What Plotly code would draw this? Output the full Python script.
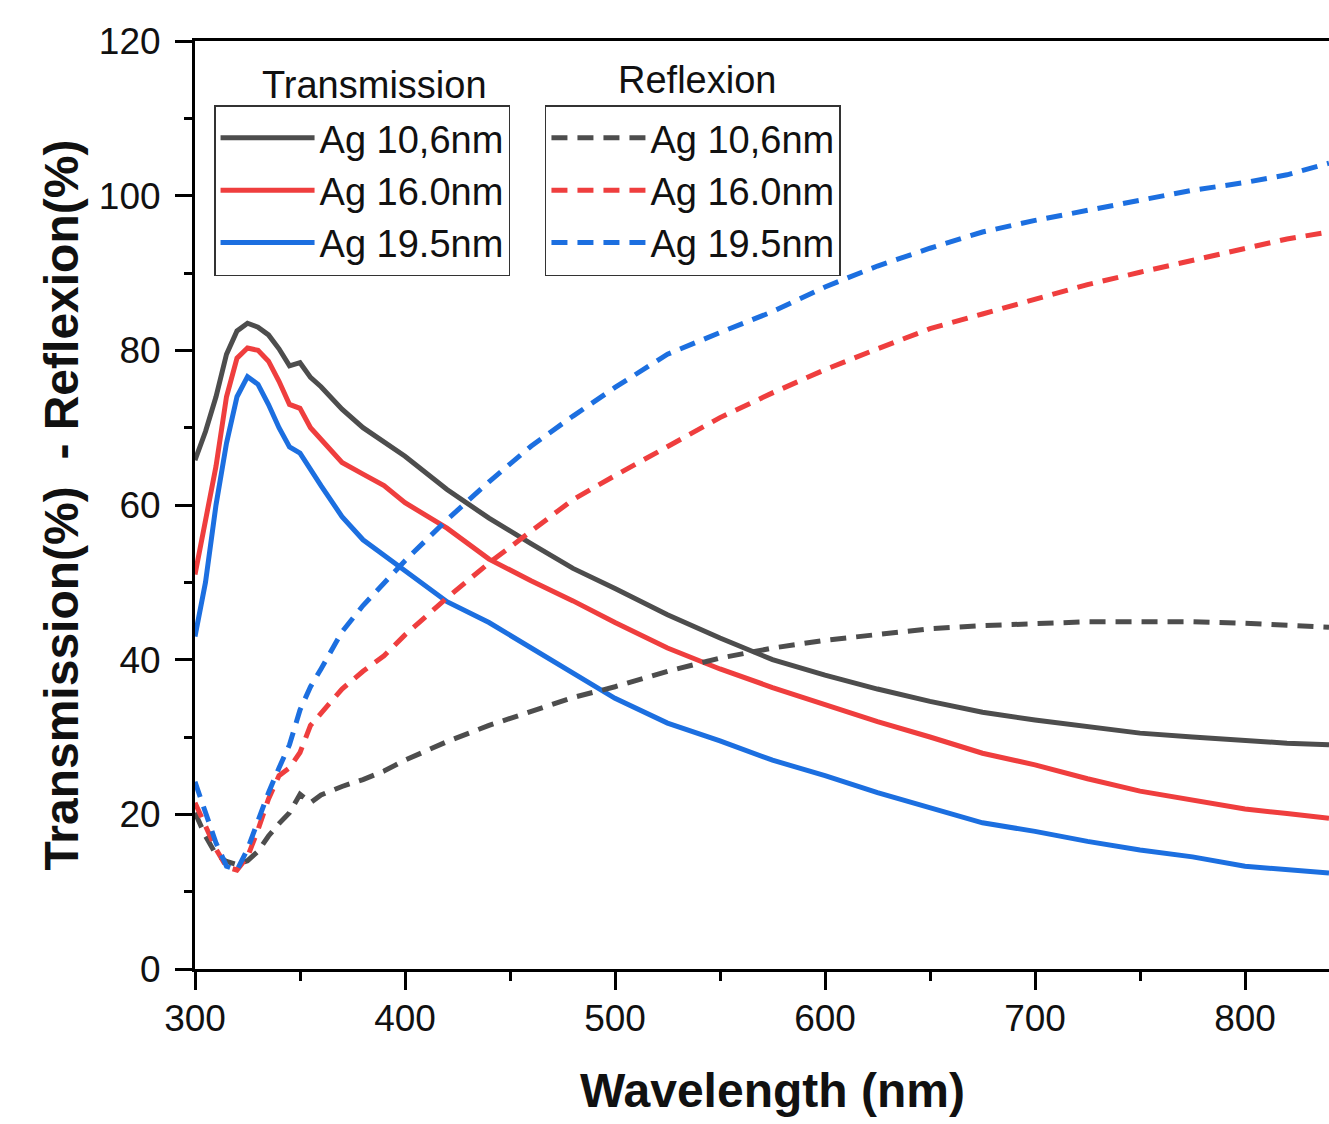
import plotly.graph_objects as go

wavelength = [300, 305, 310, 315, 320, 325, 330, 335, 340, 345, 350, 355, 360,
              370, 380, 390, 400, 420, 440, 460, 480, 500, 525, 550, 575, 600,
              625, 650, 675, 700, 725, 750, 775, 800, 820, 840]

# Transmission (%)
T_106 = [65.8, 69.5, 74.0, 79.5, 82.5, 83.5, 83.0, 82.0, 80.2, 78.0, 78.4, 76.5, 75.3,
         72.4, 70.0, 68.2, 66.3, 62.0, 58.3, 55.0, 51.8, 49.2, 45.8, 42.8, 40.0, 38.0,
         36.2, 34.6, 33.2, 32.2, 31.3, 30.5, 30.0, 29.5, 29.2, 29.0]
T_160 = [51.0, 58.0, 65.0, 74.0, 79.0, 80.3, 80.0, 78.6, 76.0, 73.0, 72.5, 70.0, 68.5,
         65.5, 64.0, 62.5, 60.3, 57.0, 53.0, 50.2, 47.6, 44.8, 41.5, 38.8, 36.4, 34.2,
         32.0, 30.0, 27.9, 26.4, 24.6, 23.0, 21.8, 20.7, 20.1, 19.5]
T_195 = [43.0, 50.0, 60.0, 68.0, 74.0, 76.6, 75.6, 73.0, 70.0, 67.5, 66.7, 64.5, 62.5,
         58.5, 55.5, 53.5, 51.5, 47.5, 44.8, 41.5, 38.3, 35.0, 31.8, 29.5, 27.0, 25.0,
         22.8, 20.8, 18.9, 17.8, 16.5, 15.4, 14.5, 13.3, 12.8, 12.4]

# Reflexion (%)
R_106 = [20.2, 17.2, 14.8, 13.9, 13.5, 14.0, 15.2, 17.2, 18.8, 20.2, 22.6, 21.5, 22.5,
         23.6, 24.5, 25.6, 27.0, 29.4, 31.5, 33.3, 35.1, 36.5, 38.5, 40.2, 41.5, 42.5,
         43.2, 44.0, 44.4, 44.7, 44.9, 44.9, 44.9, 44.7, 44.4, 44.2]
R_160 = [21.5, 18.5, 15.5, 13.2, 12.8, 14.5, 18.0, 22.0, 25.0, 26.0, 28.0, 31.5, 33.0,
         36.2, 38.5, 40.5, 43.2, 48.0, 52.5, 56.6, 60.7, 63.8, 67.5, 71.3, 74.5, 77.5,
         80.2, 82.8, 84.7, 86.6, 88.5, 90.1, 91.6, 93.1, 94.4, 95.3]
R_195 = [24.2, 20.2, 16.3, 13.3, 12.8, 15.5, 19.2, 22.8, 26.0, 29.0, 33.5, 36.5, 38.8,
         43.6, 47.0, 50.0, 52.8, 58.1, 63.0, 67.6, 71.5, 75.2, 79.5, 82.3, 85.0, 88.2,
         90.9, 93.2, 95.3, 96.8, 98.1, 99.4, 100.7, 101.7, 102.7, 104.2]

labels = ["Ag 10,6nm", "Ag 16.0nm", "Ag 19.5nm"]
colors = ["#4d4d4d", "#ef3e3e", "#1c6fe0"]

fig = go.Figure()

for i, (name, ys, c) in enumerate(zip(labels, [T_106, T_160, T_195], colors)):
    fig.add_trace(go.Scatter(
        x=wavelength, y=ys, mode="lines", name=name,
        line=dict(color=c, width=5),
        legend="legend", legendgroup="T%d" % i,
    ))

for i, (name, ys, c) in enumerate(zip(labels, [R_106, R_160, R_195], colors)):
    fig.add_trace(go.Scatter(
        x=wavelength, y=ys, mode="lines", name=name,
        line=dict(color=c, width=5, dash="16px,10px"),
        legend="legend2", legendgroup="R%d" % i,
    ))

axis_common = dict(
    showline=True, linecolor="black", linewidth=3,
    ticks="outside", tickwidth=3, tickcolor="black",
    showgrid=False, zeroline=False, automargin=False,
    tickfont=dict(size=37, color="#111"),
)

fig.update_xaxes(
    range=[300, 840], tick0=300, dtick=100, ticklen=18, mirror=True,
    ticklabelstandoff=-3,
    minor=dict(ticks="outside", dtick=50, tick0=300, ticklen=9, tickwidth=3,
               tickcolor="black", showgrid=False),
    **axis_common,
)
fig.update_yaxes(
    range=[0, 120], tick0=0, dtick=20, ticklen=17,
    minor=dict(ticks="outside", dtick=10, tick0=0, ticklen=8, tickwidth=3,
               tickcolor="black", showgrid=False),
    ticklabelstandoff=7,
    title=dict(text="Transmission(%)  - Reflexion(%)",
               font=dict(size=48, weight="bold", color="#111"), standoff=6),
    **axis_common,
)

legend_common = dict(
    xanchor="left", yanchor="top", bgcolor="white",
    bordercolor="#333", borderwidth=1.5,
    font=dict(size=38, color="#111"), itemwidth=94, tracegroupgap=0,
)

fig.update_layout(
    width=1329, height=1124,
    margin=dict(l=195, r=0, t=41, b=155),
    plot_bgcolor="white", paper_bgcolor="white",
    font=dict(family="Liberation Sans, Arial, sans-serif", color="#111"),
    legend=dict(x=0.0168, y=0.931, **legend_common),
    legend2=dict(x=0.3086, y=0.931, **legend_common),
    annotations=[
        dict(text="Transmission", x=0.1587, y=0.9526, xref="paper", yref="paper",
             showarrow=False, font=dict(size=38, color="#111"),
             xanchor="center", yanchor="middle"),
        dict(text="Reflexion", x=0.4427, y=0.958, xref="paper", yref="paper",
             showarrow=False, font=dict(size=38, color="#111"),
             xanchor="center", yanchor="middle"),
        dict(text="<b>Wavelength (nm)</b>", x=0.5097, y=-0.1304, xref="paper",
             yref="paper", showarrow=False,
             font=dict(size=48, color="#111"),
             xanchor="center", yanchor="middle"),
    ],
)

fig.write_html("out.html",
               config={"displayModeBar": False},
               post_script="document.body.style.margin='0';document.body.style.overflow='hidden';")
